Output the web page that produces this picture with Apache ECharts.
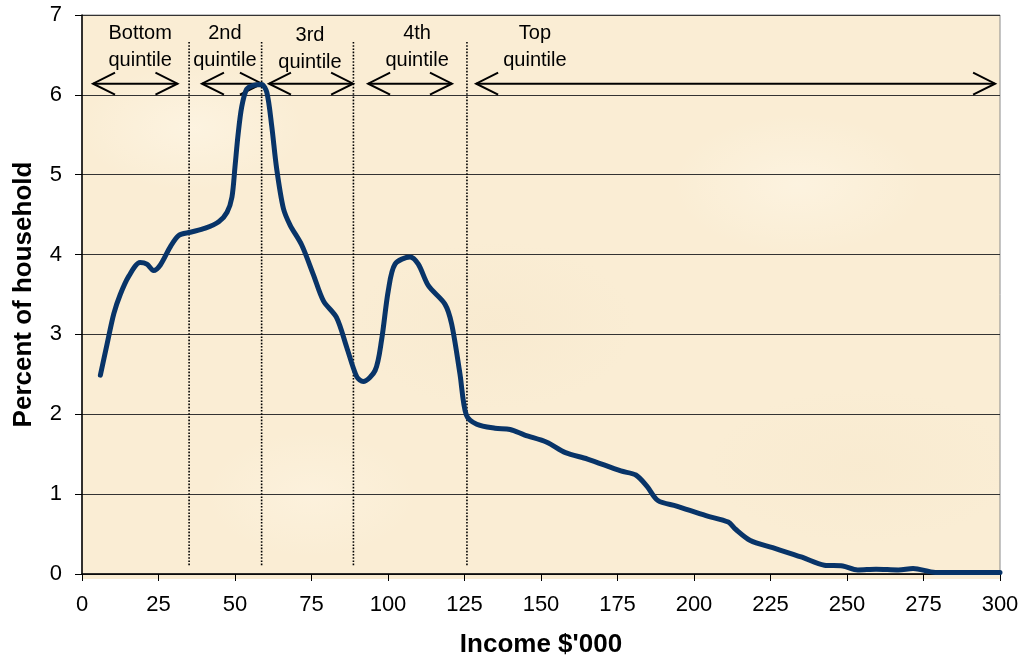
<!DOCTYPE html>
<html>
<head>
<meta charset="utf-8">
<script src="https://cdn.jsdelivr.net/npm/echarts@6/dist/echarts.min.js"></script>
<style>
  html, body { margin: 0; padding: 0; background: #fff; }
  #wrap { position: relative; width: 1022px; height: 663px; }
  /* parchment behind the plot area */
  #paper {
    position: absolute; left: 82px; top: 15px; width: 918px; height: 564px;
    background:
      radial-gradient(ellipse 160px 90px at 12% 20%, rgba(255,248,234,0.55), rgba(255,248,234,0) 70%),
      radial-gradient(ellipse 200px 120px at 45% 55%, rgba(243,226,196,0.25), rgba(243,226,196,0) 70%),
      radial-gradient(ellipse 180px 100px at 78% 30%, rgba(255,248,234,0.5), rgba(255,248,234,0) 70%),
      radial-gradient(ellipse 220px 110px at 85% 80%, rgba(244,228,198,0.25), rgba(244,228,198,0) 70%),
      radial-gradient(ellipse 150px 90px at 25% 85%, rgba(255,246,230,0.45), rgba(255,246,230,0) 70%),
      #faedd4;
  }
  #chart { position: absolute; left: 0; top: 0; width: 1022px; height: 663px; }
</style>
</head>
<body>
<div id="wrap">
  <div id="paper"></div>
  <div id="chart"></div>
</div>
<script>
// income ($'000) and percent of households
const income = [6.0, 8.2, 10.4, 12.5, 15.3, 19.0, 21.2, 23.4, 25.6, 28.9, 31.6, 35.4, 40.3, 44.7, 47.4, 49.0,
  50.0, 51.0, 52.2, 53.8, 56.0, 58.7, 60.4, 62.0, 63.6, 65.8, 68.0, 71.8, 75.6, 78.9, 83.2, 86.5, 89.8, 91.9,
  95.8, 97.9, 100.1, 102.3, 107.2, 109.9, 113.2, 118.6, 120.8, 123.5, 125.6, 129.0, 135.0, 139.9, 144.7, 151.9,
  158.0, 165.2, 176.1, 181.0, 184.6, 188.2, 194.3, 203.9, 211.2, 213.6, 218.4, 225.7, 235.3, 242.6, 248.6,
  253.5, 259.5, 266.8, 271.6, 278.9, 300]
const percent = [2.49, 2.88, 3.26, 3.50, 3.73, 3.90, 3.88, 3.80, 3.87, 4.10, 4.24, 4.28, 4.33, 4.41, 4.53, 4.72,
  5.10, 5.50, 5.85, 6.07, 6.12, 6.13, 6.03, 5.61, 5.08, 4.58, 4.37, 4.12, 3.75, 3.42, 3.21, 2.84, 2.47, 2.41,
  2.55, 2.93, 3.55, 3.88, 3.97, 3.88, 3.61, 3.38, 3.13, 2.51, 1.99, 1.875, 1.825, 1.81, 1.74, 1.65,
  1.52, 1.44, 1.29, 1.24, 1.10, 0.92, 0.85, 0.73, 0.65, 0.56, 0.42, 0.33, 0.21, 0.11, 0.10,
  0.05, 0.06, 0.05, 0.07, 0.02, 0.02]

// quintile boundaries (dotted lines)
const boundaryX = [35, 58.7, 88.7, 125.8]
const boundaryLow = 0.11
const boundaryHigh = 6.68

// quintile arrows: start, end
const arrowFrom = [3.6, 39.2, 61.1, 93.5, 128.8]
const arrowTo = [31.2, 58.8, 88.6, 120.9, 298.4]
const arrowY = 6.14

// quintile labels
const labelText = ['Bottom\nquintile', '2nd\nquintile', '3rd\nquintile', '4th\nquintile', 'Top\nquintile']
const labelX = [19.0, 46.7, 74.5, 109.5, 148.0]
const labelY = [6.60, 6.60, 6.57, 6.60, 6.60]

const xTicks = { min: 0, max: 300, interval: 25 }
const yTicks = { min: 0, max: 7, interval: 1 }

const FONT = '"Liberation Sans", Arial, sans-serif'

const chart = echarts.init(document.getElementById('chart'), null, { renderer: 'canvas' })

chart.setOption({
  backgroundColor: 'transparent',
  animation: false,
  grid: {
    left: 82,
    right: 22,
    top: 15,
    bottom: 84,
    show: true,
    borderColor: '#8a8a8a',
    borderWidth: 1,
    backgroundColor: 'transparent'
  },
  xAxis: {
    type: 'value',
    min: xTicks.min,
    max: xTicks.max,
    interval: xTicks.interval,
    name: "Income $'000",
    nameLocation: 'middle',
    nameGap: 58,
    nameTextStyle: { fontFamily: FONT, fontSize: 26, fontWeight: 'bold', color: '#000' },
    axisLine: { show: true, lineStyle: { color: '#000', width: 1.5 } },
    axisTick: { show: true, length: 7, lineStyle: { color: '#000' } },
    axisLabel: { fontFamily: FONT, fontSize: 22, color: '#000', margin: 20 },
    splitLine: { show: false }
  },
  yAxis: {
    type: 'value',
    min: yTicks.min,
    max: yTicks.max,
    interval: yTicks.interval,
    name: 'Percent of household',
    nameLocation: 'middle',
    nameGap: 45,
    nameTextStyle: { fontFamily: FONT, fontSize: 26, fontWeight: 'bold', color: '#000' },
    axisLine: { show: true, lineStyle: { color: '#000', width: 1.5 } },
    axisTick: { show: true, length: 7, lineStyle: { color: '#000' } },
    axisLabel: { fontFamily: FONT, fontSize: 22, color: '#000', margin: 20 },
    splitLine: { show: true, lineStyle: { color: '#333', width: 1 } }
  },
  series: [
    {
      // dotted quintile boundaries
      type: 'custom',
      z: 3,
      data: boundaryX.map(x => [x, boundaryLow, boundaryHigh]),
      encode: { x: 0, y: [1, 2] },
      renderItem(params, api) {
        const a = api.coord([api.value(0), api.value(1)])
        const b = api.coord([api.value(0), api.value(2)])
        return {
          type: 'line',
          shape: { x1: a[0], y1: a[1], x2: b[0], y2: b[1] },
          style: { stroke: '#000', lineWidth: 1.6, lineDash: [1.6, 1.6] }
        }
      }
    },
    {
      // double-headed arrows with open heads
      type: 'custom',
      z: 3,
      data: arrowFrom.map((x, i) => [x, arrowTo[i], arrowY]),
      encode: { x: [0, 1], y: 2 },
      renderItem(params, api) {
        const a = api.coord([api.value(0), api.value(2)])
        const b = api.coord([api.value(1), api.value(2)])
        const st = { stroke: '#000', lineWidth: 2, fill: null }
        return {
          type: 'group',
          children: [
            { type: 'line', shape: { x1: a[0], y1: a[1], x2: b[0], y2: b[1] }, style: st },
            { type: 'polyline', shape: { points: [[a[0] + 22, a[1] - 11], a, [a[0] + 22, a[1] + 11]] }, style: st },
            { type: 'polyline', shape: { points: [[b[0] - 22, b[1] - 11], b, [b[0] - 22, b[1] + 11]] }, style: st }
          ]
        }
      }
    },
    {
      // quintile labels
      type: 'custom',
      z: 3,
      data: labelX.map((x, i) => [x, labelY[i], i]),
      encode: { x: 0, y: 1 },
      renderItem(params, api) {
        const p = api.coord([api.value(0), api.value(1)])
        return {
          type: 'text',
          x: p[0],
          y: p[1],
          style: {
            text: labelText[api.value(2)],
            fill: '#000',
            fontFamily: FONT,
            fontSize: 20,
            lineHeight: 27,
            align: 'center',
            verticalAlign: 'middle'
          }
        }
      }
    },
    {
      name: 'households',
      type: 'line',
      z: 5,
      smooth: 0.3,
      symbol: 'none',
      data: income.map((x, i) => [x, percent[i]]),
      lineStyle: { color: '#083468', width: 5, cap: 'round', join: 'round' }
    }
  ]
})
</script>
</body>
</html>
